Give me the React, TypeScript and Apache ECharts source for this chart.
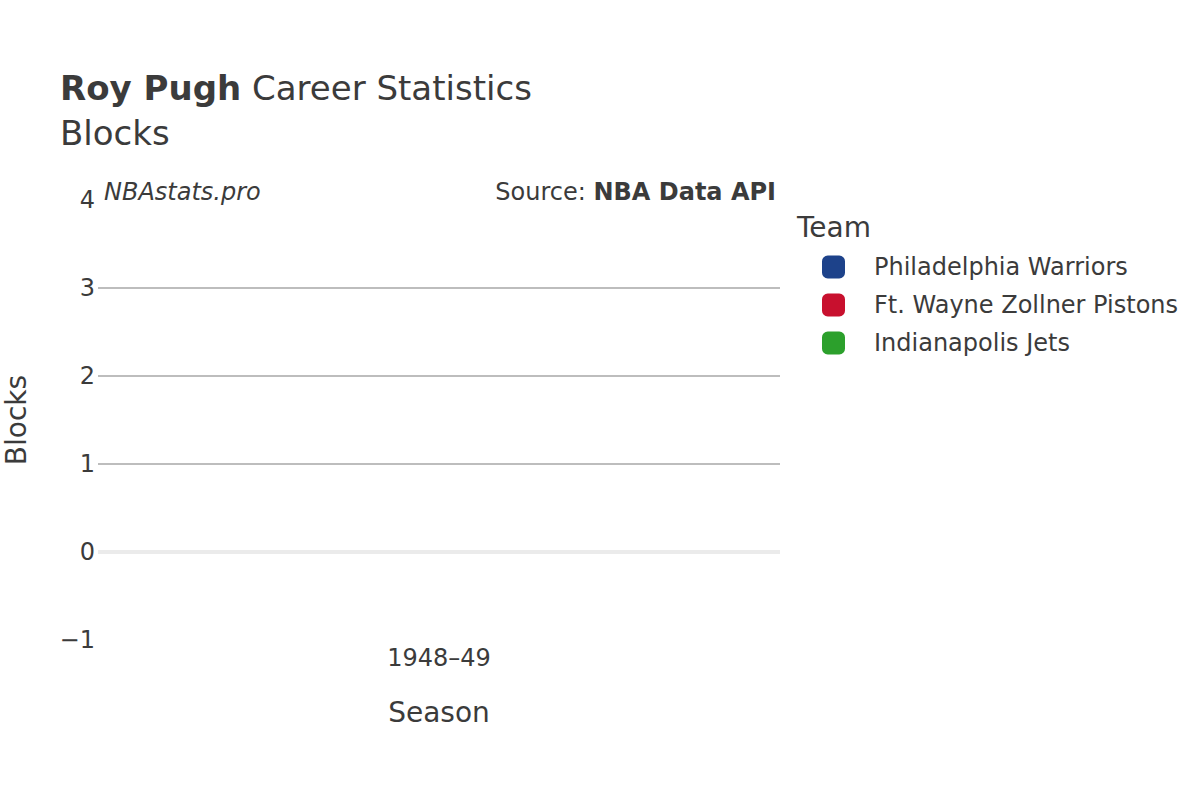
import * as echarts from 'echarts';
import { useEffect, useRef } from 'react';

const seasons = ['1948–49'];
const teams = ['Philadelphia Warriors', 'Ft. Wayne Zollner Pistons', 'Indianapolis Jets'];
const teamColors = ['#1D428A', '#C8102E', '#2CA02C'];
// blocks were not recorded that season, so every bar is zero
const warriorsBlocks = [0];
const pistonsBlocks = [0];
const jetsBlocks = [0];
const yTicks = { min: -1, max: 4, interval: 1 };

const FONT = 'DejaVu Sans, sans-serif';
const TEXT = '#3b3b3b';

export default function App() {
  const chartRef = useRef<HTMLDivElement>(null);

  useEffect(() => {
    if (!chartRef.current) return;
    const chart = echarts.init(chartRef.current, undefined, { renderer: 'svg' });

    const values = [warriorsBlocks, pistonsBlocks, jetsBlocks];
    const series: echarts.SeriesOption[] = teams.map((name, i) => ({
      name,
      type: 'bar',
      data: values[i],
      itemStyle: { color: teamColors[i] },
      barGap: '0%',
      ...(i === 0 ? {
        markLine: {
          silent: true,
          symbol: 'none',
          label: { show: false },
          lineStyle: { color: '#ebebeb', width: 4, type: 'solid' },
          data: [{ yAxis: 0 }],
        },
      } : {}),
    }));

    chart.setOption({
      animation: false,
      backgroundColor: '#fff',
      textStyle: { fontFamily: FONT },
      title: [
        {
          left: 60,
          top: 71,
          padding: 0,
          text: '{b|Roy Pugh}{n|\u00a0Career Statistics}',
          textStyle: {
            fontWeight: 'normal',
            rich: {
              b: { fontFamily: FONT, fontSize: 34, fontWeight: 'bold', color: TEXT },
              n: { fontFamily: FONT, fontSize: 34, fontWeight: 'normal', color: TEXT },
            },
          },
        },
        {
          left: 60,
          top: 116,
          padding: 0,
          text: 'Blocks',
          textStyle: { fontFamily: FONT, fontSize: 34, fontWeight: 'normal', color: TEXT },
        },
        {
          left: 104,
          top: 180,
          padding: 0,
          text: 'NBAstats.pro',
          textStyle: { fontFamily: FONT, fontSize: 24, fontStyle: 'italic', fontWeight: 'normal', color: TEXT },
        },
        {
          right: 424,
          top: 180,
          padding: 0,
          text: '{n|Source: }{b|NBA Data API}',
          textStyle: {
            fontWeight: 'normal',
            rich: {
              n: { fontFamily: FONT, fontSize: 24, fontWeight: 'normal', color: TEXT },
              b: { fontFamily: FONT, fontSize: 24, fontWeight: 'bold', color: TEXT },
            },
          },
        },
        {
          left: 797,
          top: 213,
          padding: 0,
          text: 'Team',
          textStyle: { fontFamily: FONT, fontSize: 28, fontWeight: 'normal', color: TEXT },
        },
      ],
      legend: {
        orient: 'vertical',
        left: 822,
        top: 255,
        padding: 0,
        icon: 'roundRect',
        itemWidth: 23,
        itemHeight: 23,
        itemGap: 14,
        data: teams,
        textStyle: { fontFamily: FONT, fontSize: 24, color: TEXT, padding: [0, 0, 0, 24] },
      },
      grid: {
        left: 98,
        right: 420,
        top: 200,
        bottom: 160,
        containLabel: false,
        outerBoundsMode: 'none',
      },
      xAxis: {
        type: 'category',
        data: seasons,
        name: 'Season',
        nameLocation: 'middle',
        nameGap: 58,
        nameTextStyle: { fontFamily: FONT, fontSize: 28, color: TEXT },
        axisLine: { show: false },
        axisTick: { show: false },
        axisLabel: { fontFamily: FONT, fontSize: 24, color: TEXT, margin: 6 },
      },
      yAxis: {
        type: 'value',
        min: yTicks.min,
        max: yTicks.max,
        interval: yTicks.interval,
        name: 'Blocks',
        nameLocation: 'middle',
        nameGap: 68,
        nameTextStyle: { fontFamily: FONT, fontSize: 28, color: TEXT },
        axisLine: { show: false },
        axisTick: { show: false },
        axisLabel: {
          fontFamily: FONT,
          fontSize: 24,
          color: TEXT,
          margin: 3,
          formatter: (v: number) => String(v).replace('-', '\u2212'),
        },
        splitLine: {
          show: true,
          lineStyle: {
            color: ['transparent', 'transparent', '#bdbdbd', '#bdbdbd', '#bdbdbd', 'transparent'],
            width: 2,
          },
        },
      },
      series,
    });

    return () => {
      chart.dispose();
    };
  }, []);

  return (
    <div
      ref={chartRef}
      style={{ position: 'fixed', left: 0, top: 0, width: 1200, height: 800 }}
    />
  );
}
